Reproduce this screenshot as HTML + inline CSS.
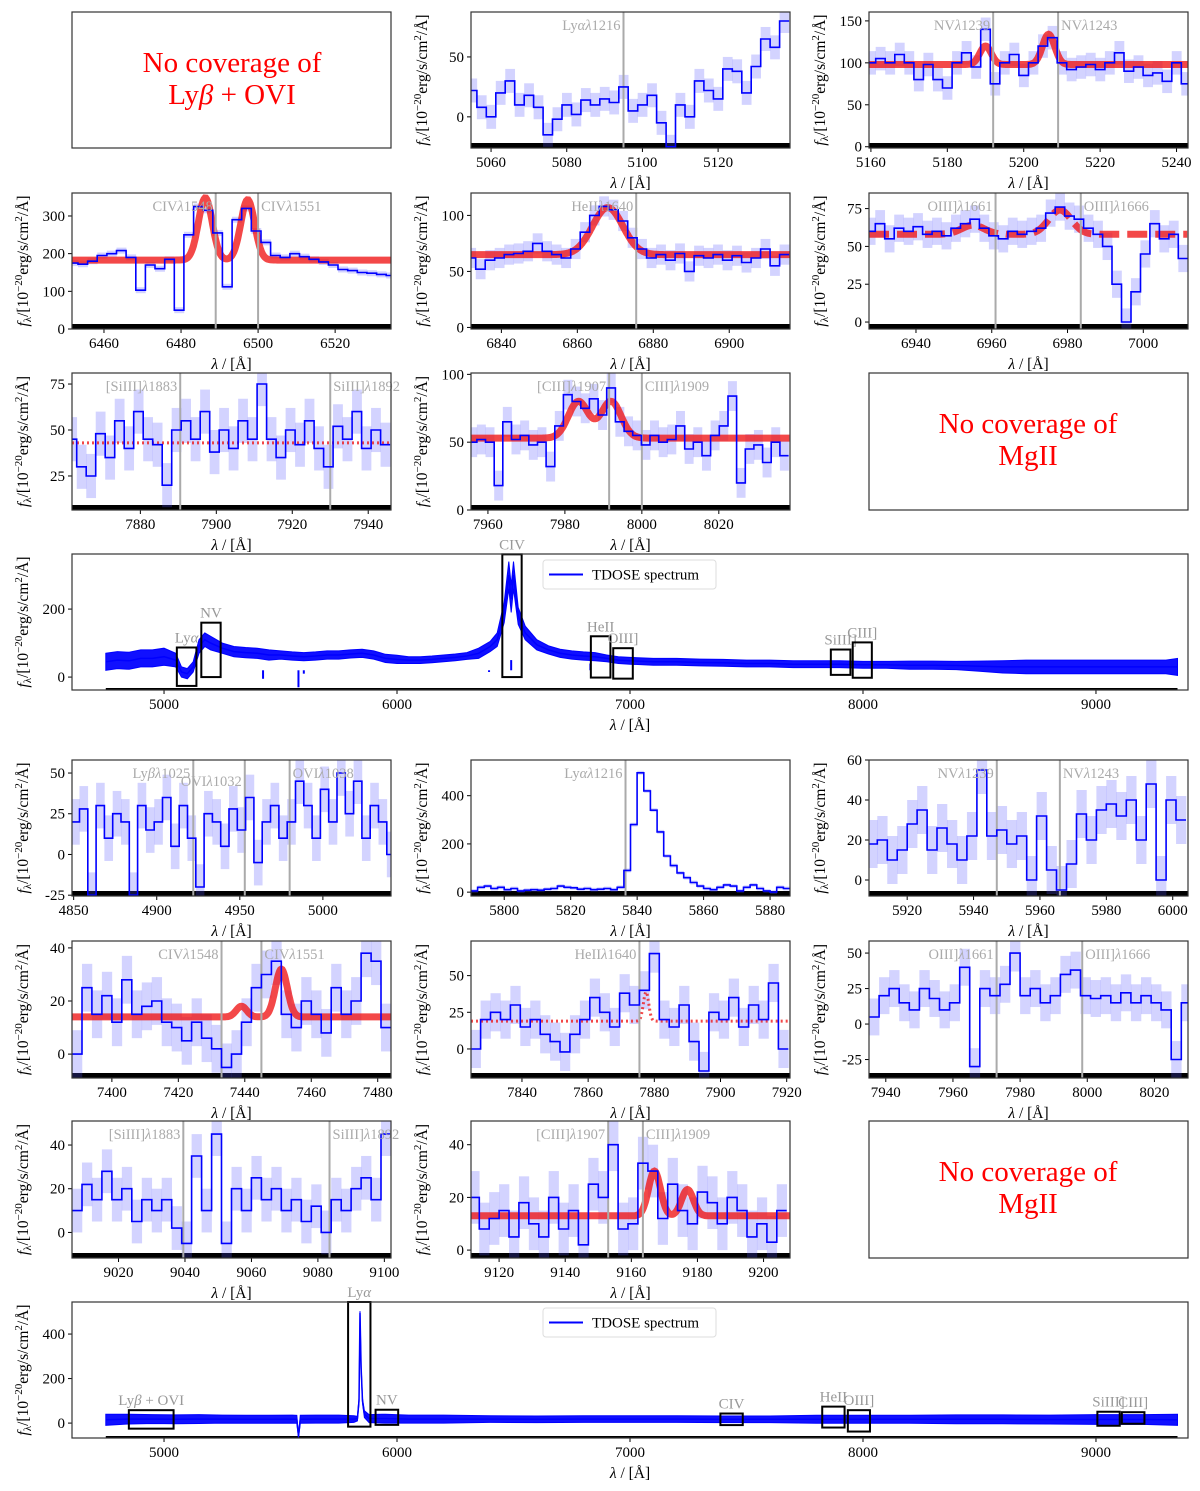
<!DOCTYPE html>
<html><head><meta charset="utf-8"><title>TDOSE spectra</title>
<style>
html,body{margin:0;padding:0;background:#fff;}
svg{display:block;font-family:"Liberation Serif","DejaVu Serif",serif;}
</style></head>
<body>
<svg id="fig" xmlns="http://www.w3.org/2000/svg" width="1200" height="1491" viewBox="0 0 1200 1491">
<rect x="0" y="0" width="1200" height="1491" fill="#fff"/>
<g>
<rect x="72" y="12" width="319" height="136" fill="none" stroke="#333" stroke-width="1.2"/>
<text x="232" y="72" text-anchor="middle" font-size="29" fill="#ff0000">No coverage of</text>
<text x="232" y="104" text-anchor="middle" font-size="29" fill="#ff0000">Ly<tspan font-style="italic">β</tspan> + OVI</text>
</g>
<g>
<rect x="869" y="373" width="319" height="137" fill="none" stroke="#333" stroke-width="1.2"/>
<text x="1028" y="433" text-anchor="middle" font-size="29" fill="#ff0000">No coverage of</text>
<text x="1028" y="465" text-anchor="middle" font-size="29" fill="#ff0000">MgII</text>
</g>
<g>
<rect x="869" y="1121" width="319" height="137" fill="none" stroke="#333" stroke-width="1.2"/>
<text x="1028" y="1181" text-anchor="middle" font-size="29" fill="#ff0000">No coverage of</text>
<text x="1028" y="1213" text-anchor="middle" font-size="29" fill="#ff0000">MgII</text>
</g>
</svg>
<script>
// ---------- data: small panels (bin start, bin step, flux values, error) ----------
const lyaAStart=5055, lyaAStep=2.5;
const lyaAFlux=[22,8,0,20,30,10,18,8,-15,-2,10,2,14,10,15,12,25,5,10,18,-5,-25,10,0,30,22,15,40,38,20,42,65,58,80];
const nvAStart=5160, nvAStep=2.5;
const nvAFlux=[100,105,100,110,100,80,98,80,70,100,112,95,140,75,100,110,85,100,120,130,100,92,95,98,92,100,112,90,95,85,88,78,100,75];
const civAStart=6452, civAStep=2.5;
const civAFlux=[175,172,180,195,200,208,190,103,170,160,185,50,250,325,315,255,112,290,320,260,230,195,190,200,192,185,178,170,158,155,150,148,145,142];
const heiiAStart=6832, heiiAStep=2.5;
const heiiAFlux=[62,52,60,62,65,66,68,75,68,65,62,70,85,100,108,105,95,80,70,62,65,60,66,50,64,62,65,60,64,58,62,70,55,65];
const oiiiAStart=6928, oiiiAStep=2.5;
const oiiiAFlux=[60,65,55,62,60,63,58,60,57,62,65,68,62,57,55,60,58,60,62,72,76,70,68,62,58,50,25,0,20,45,65,55,58,42];
const siiiiAStart=7862, siiiiAStep=2.5;
const siiiiAFlux=[45,30,25,48,35,55,40,60,45,42,20,50,55,45,60,38,50,40,55,45,75,45,35,50,42,55,40,30,52,45,60,40,50,42];
const ciiiAStart=7956, ciiiAStep=2.25;
const ciiiAFlux=[50,52,50,18,65,52,55,48,50,32,62,85,80,75,82,70,90,65,58,55,48,55,50,52,62,45,50,40,55,62,84,20,45,48,35,50,40];
const lybBStart=4851, lybBStep=5;
const lybBFlux=[20,28,-25,30,10,25,20,-25,30,15,20,35,5,30,10,-20,25,20,5,28,15,35,-5,20,30,10,20,45,30,10,40,20,50,25,45,10,30,20,0];
const lyaBStart=5791, lyaBStep=2;
const lyaBFlux=[5,20,25,15,20,10,15,5,8,10,8,12,15,25,20,18,12,15,10,12,15,10,20,90,280,495,420,340,250,150,110,80,60,40,25,15,10,20,30,25,5,20,30,15,5,0,20,15];
const nvBStart=5909.5, nvBStep=3;
const nvBFlux=[18,20,10,15,28,35,15,26,18,10,22,55,22,25,18,22,0,32,5,-5,8,33,20,35,38,32,40,20,48,0,40,30];
const civBStart=7389.5, civBStep=3;
const civBFlux=[0,25,15,22,12,28,15,18,20,12,10,5,12,6,2,-5,0,12,25,30,35,15,10,20,15,8,25,15,20,38,35,10];
const heiiBStart=7826, heiiBStep=3;
const heiiBFlux=[0,20,25,20,30,15,20,10,5,-2,10,20,35,25,15,38,30,40,65,20,15,30,5,-15,25,20,35,15,30,20,45,0];
const oiiiBStart=7936.5, oiiiBStep=3;
const oiiiBFlux=[5,20,25,15,10,25,18,10,15,40,-30,25,20,28,50,20,25,15,20,35,38,20,18,20,15,22,15,20,15,10,-25,15];
const siiiiBStart=9007.5, siiiiBStep=3;
const siiiiBFlux=[10,22,15,28,15,20,5,15,10,15,2,-5,35,10,45,-5,20,10,25,15,20,10,15,5,12,0,15,10,20,25,15,45];
const ciiiBStart=9112.5, ciiiBStep=3;
const ciiiBFlux=[20,8,12,15,5,18,10,5,20,8,15,2,25,20,40,8,10,33,30,12,25,15,10,22,18,10,20,15,5,10,3,15];

// ---------- data: model fits ----------
const nvAModel={cont:98, mu:[5190,5206.5], amp:[22,36], sig:[1.5,1.6]};
const civAModel={cont:183, mu:[6486.3,6497.3], amp:[165,160], sig:[1.8,1.8]};
const heiiAModel={cont:65, mu:[6868], amp:[42], sig:[4]};
const oiiiAModel={cont:58, mu:[6955,6978], amp:[6,16], sig:[3,3]};
const siiiiAModel={cont:43, mu:[], amp:[], sig:[]};
const ciiiAModel={cont:53, mu:[7983.5,7992], amp:[27,27], sig:[2.6,2.6]};
const civBModel={cont:14, mu:[7439,7451], amp:[4,18], sig:[1.6,1.8]};
const heiiBModel={cont:19, mu:[7877.5], amp:[20], sig:[0.8]};
const ciiiBModel={cont:13, mu:[9167,9177], amp:[17,10], sig:[1.8,1.8]};

// ---------- data: full spectra ----------
const topWl=[4750,4800,4850,4900,4950,5000,5050,5075,5100,5125,5150,5175,5200,5250,5300,5350,5400,5450,5500,5550,5600,5650,5700,5750,5800,5850,5900,5950,6000,6050,6100,6150,6200,6250,6300,6350,6400,6430,6460,6480,6490,6500,6520,6550,6600,6650,6700,6750,6800,6850,6900,6950,7000,7100,7200,7300,7400,7500,7600,7700,7800,7900,8000,8100,8200,8300,8400,8500,8600,8700,8800,8900,9000,9100,9200,9300,9350];
const topFlux=[45,50,48,55,55,60,50,15,10,30,90,110,100,85,75,72,70,65,65,62,60,62,65,65,68,70,65,55,52,50,50,52,55,58,62,70,90,110,190,300,230,300,180,130,95,80,70,65,62,60,55,50,48,45,45,43,42,40,40,38,38,38,36,36,35,35,34,32,30,30,30,30,30,30,30,30,30];
const topNoise=[25,25,25,25,25,25,20,15,15,15,20,20,20,15,15,15,15,15,12,12,12,12,12,12,12,12,12,12,12,10,10,10,10,10,10,15,15,20,30,40,40,40,25,20,15,12,12,12,12,12,10,10,10,10,10,10,10,10,10,10,10,10,10,10,12,12,12,15,18,20,20,20,20,20,20,20,25];
const topDipWl=[5425,5577,5600,5890,6395,6490,6830];
const topDipVal=[-5,-30,10,20,15,50,40];
const botWl=[4750,4850,4950,5050,5150,5250,5350,5450,5550,5570,5577,5585,5650,5750,5815,5830,5837,5841,5846,5852,5860,5880,5950,6050,6200,6400,6600,6800,7000,7200,7400,7600,7800,8000,8200,8400,8600,8800,9000,9200,9350];
const botFlux=[15,18,18,17,18,18,17,17,18,17,-60,17,18,18,18,20,100,495,250,100,40,20,20,18,18,18,17,18,18,18,17,17,17,17,17,17,17,16,16,16,15];
const botNoise=[25,22,20,20,20,18,18,18,18,18,5,18,18,18,15,10,10,8,10,10,15,18,20,18,18,15,15,15,15,15,15,15,18,18,18,20,20,20,22,22,25];

// ---------- data: inset boxes ----------
const topBoxLabels=["Lyα","NV","CIV","HeII","OIII]","SiIII]","CIII]"];
const topBoxLam0=[5055,5160,6452,6832,6928,7862,7956];
const topBoxLam1=[5139,5243,6535,6916,7012,7946,8038];
const topBoxF0=[-26,0,0,-1.4,-4.6,6.5,-2];
const topBoxF1=[87,160,361,120,85,81,102];
const botBoxLabels=["Lyβ + OVI","Lyα","NV","CIV","HeII","OIII]","SiIII]","CIII]"];
const botBoxLam0=[4849,5790,5908,7388,7825,7935,9006,9111];
const botBoxLam1=[5041,5886,6005,7484,7921,8030,9102,9208];
const botBoxF0=[-25,-16,-8,-9,-20,-38,-12,-3];
const botBoxF1=[58,544,60,43,74,58,51,49];

// ---------- layout ----------
const NS="http://www.w3.org/2000/svg";
const svg=document.getElementById('fig');
const C1=[72,391], C2=[471,790], C3=[869,1188], CB=[72,1188];
function mk(tag, attrs, name, parent){
  const el=document.createElementNS(NS,tag);
  for(const k in attrs) el.setAttribute(k, attrs[k]);
  
  
  (parent||svg).appendChild(el);
  return el;
}
let clipId=0;
function gauss(m,x){let v=m.cont;for(let i=0;i<m.mu.length;i++){v+=m.amp[i]*Math.exp(-0.5*Math.pow((x-m.mu[i])/m.sig[i],2));}return v;}

function axes(p){
  const g=mk('g',{},p.name);
  const sx=v=>p.c[0]+(v-p.xmin)/(p.xmax-p.xmin)*(p.c[1]-p.c[0]);
  const sy=v=>p.r[1]-(v-p.ymin)/(p.ymax-p.ymin)*(p.r[1]-p.r[0]);
  const id='clip'+(clipId++);
  const cp=mk('clipPath',{id:id},p.name+'-clip',g);
  mk('rect',{x:p.c[0],y:p.r[0],width:p.c[1]-p.c[0],height:p.r[1]-p.r[0]},p.name+'-clip-rect',cp);
  const plot=mk('g',{'clip-path':'url(#'+id+')'},p.name+'-plot-area',g);
  p.xt.forEach(t=>{const x=sx(t);
    mk('line',{x1:x,x2:x,y1:p.r[1],y2:p.r[1]+4,stroke:'#000','stroke-width':1},p.name+'-x-tick',g);
    const tx=mk('text',{x:x,y:p.r[1]+19,'text-anchor':'middle','font-size':15},p.name+'-x-tick-label',g); tx.textContent=t;});
  p.yt.forEach(t=>{const y=sy(t);
    mk('line',{x1:p.c[0]-4,x2:p.c[0],y1:y,y2:y,stroke:'#000','stroke-width':1},p.name+'-y-tick',g);
    const ty=mk('text',{x:p.c[0]-7,y:y+5,'text-anchor':'end','font-size':15},p.name+'-y-tick-label',g); ty.textContent=t;});
  const xl=mk('text',{x:(p.c[0]+p.c[1])/2,y:p.r[1]+40,'text-anchor':'middle','font-size':15.5},p.name+'-x-axis-title',g);
  xl.innerHTML='<tspan font-style="italic">λ</tspan> / [Å]';
  const cy=(p.r[0]+p.r[1])/2, lx=p.c[0]-(p.ylOff||44);
  const yl=mk('text',{x:lx,y:cy,'text-anchor':'middle','font-size':15.5,transform:'rotate(-90 '+lx+' '+cy+')'},p.name+'-y-axis-title',g);
  yl.innerHTML='<tspan font-style="italic">f</tspan><tspan font-size="11" dy="3">λ</tspan><tspan dy="-3">/[10</tspan><tspan font-size="11" dy="-6">−20</tspan><tspan dy="6">erg/s/cm</tspan><tspan font-size="11" dy="-6">2</tspan><tspan dy="6">/Å]</tspan>';
  return {g,plot,sx,sy};
}
function frame(p,A){
  mk('rect',{x:p.c[0],y:p.r[0],width:p.c[1]-p.c[0],height:p.r[1]-p.r[0],fill:'none',stroke:'#333','stroke-width':1.2},p.name+'-frame',A.g);
}

function smallPanel(p, start, step, flux, err, model, lines, labels, mstyle){
  const A=axes(p);
  mk('rect',{x:p.c[0],y:p.r[1]-5,width:p.c[1]-p.c[0],height:5,fill:'#000'},p.name+'-sky-band',A.plot);
  flux.forEach((f,i)=>{const l=start+i*step;
    mk('rect',{x:A.sx(l-step/2),y:A.sy(f+err),width:A.sx(l+step/2)-A.sx(l-step/2)+0.3,height:A.sy(f-err)-A.sy(f+err),fill:'rgba(80,80,255,0.25)'},p.name+'-error-bin',A.plot);});
  if(model){
    let d='';
    for(let x=p.xmin;x<=p.xmax;x+=0.25){d+=(d?'L':'M')+A.sx(x).toFixed(1)+','+A.sy(gauss(model,x)).toFixed(1);}
    const st=mstyle||{w:7,dash:'none'};
    mk('path',{d:d,fill:'none',stroke:'rgba(240,20,20,0.78)','stroke-width':st.w,'stroke-dasharray':st.dash},p.name+'-model-fit',A.plot);
  }
  lines.forEach((l,i)=>{const x=A.sx(l);
    mk('line',{x1:x,x2:x,y1:p.r[0],y2:p.r[1],stroke:'#aaa','stroke-width':2},p.name+'-line-marker',A.plot);
    const last=(i===lines.length-1 && lines.length>1);
    const t=mk('text',{x:last?x+3:x-3,y:p.r[0]+18+(p.stag&&i===1?8:0),'text-anchor':last?'start':'end','font-size':14.5,fill:'#aaa'},p.name+'-line-label',A.g);
    t.innerHTML=labels[i];});
  let d='';
  flux.forEach((f,i)=>{const l=start+i*step; const y=A.sy(f).toFixed(1);
    d+=(i===0?'M'+A.sx(l-step/2).toFixed(1)+','+y:'L'+A.sx(l-step/2).toFixed(1)+','+y)+'L'+A.sx(l+step/2).toFixed(1)+','+y;});
  mk('path',{d:d,fill:'none',stroke:'#0000ff','stroke-width':1.6},p.name+'-spectrum',A.plot);
  frame(p,A);
}

function bigPanel(p, wl, flux, noise, dipWl, dipVal, bl, b0, b1, f0, f1, legY){
  const A=axes(p);
  mk('line',{x1:A.sx(4750),x2:A.sx(9350),y1:p.r[1]-1,y2:p.r[1]-1,stroke:'#000','stroke-width':2},p.name+'-sky-line',A.plot);
  let up='',lo='';
  wl.forEach((l,i)=>{up+=(i?'L':'M')+A.sx(l).toFixed(1)+','+A.sy(flux[i]+noise[i]).toFixed(1);});
  for(let i=wl.length-1;i>=0;i--){lo+='L'+A.sx(wl[i]).toFixed(1)+','+A.sy(flux[i]-noise[i]).toFixed(1);}
  mk('path',{d:up+lo+'Z',fill:'#1010ff',stroke:'#0000ff','stroke-width':1},p.name+'-spectrum-band',A.plot);
  let d='';
  wl.forEach((l,i)=>{d+=(i?'L':'M')+A.sx(l).toFixed(1)+','+A.sy(flux[i]).toFixed(1);});
  mk('path',{d:d,fill:'none',stroke:'#0000ff','stroke-width':1.5},p.name+'-spectrum',A.plot);
  dipWl.forEach((l,i)=>{mk('line',{x1:A.sx(l),x2:A.sx(l),y1:A.sy(20),y2:A.sy(dipVal[i]),stroke:'#0000ff','stroke-width':2},p.name+'-spectrum-dip',A.plot);});
  bl.forEach((lab,i)=>{
    const x0=A.sx(b0[i]),x1=A.sx(b1[i]),ya=A.sy(f1[i]),yb=A.sy(f0[i]);
    mk('rect',{x:x0,y:ya,width:x1-x0,height:yb-ya,fill:'none',stroke:'#000','stroke-width':2},p.name+'-inset-box',A.g);
    const t=mk('text',{x:(x0+x1)/2,y:ya-5,'text-anchor':'middle','font-size':15,fill:'#999'},p.name+'-inset-label',A.g);
    t.innerHTML=lab.replace('β','<tspan font-style="italic">β</tspan>').replace('α','<tspan font-style="italic">α</tspan>');
  });
  const lg=mk('g',{},p.name+'-legend',A.g);
  mk('rect',{x:543,y:legY,width:173,height:29,rx:3,fill:'#fff',stroke:'#ddd','stroke-width':1},p.name+'-legend-box',lg);
  mk('line',{x1:549,x2:583,y1:legY+14.5,y2:legY+14.5,stroke:'#0000ff','stroke-width':2},p.name+'-legend-swatch',lg);
  const lt=mk('text',{x:592,y:legY+19.5,'font-size':15},p.name+'-legend-label',lg); lt.textContent='TDOSE spectrum';
  frame(p,A);
}

const R1=[12,148],R2=[193,329],R3=[373,510],RB1=[554,690];
const R5=[760,896],R6=[941,1078],R7=[1121,1258],RB2=[1302,1438];
const thick={w:7,dash:'none'}, dashed={w:7,dash:'20,8'}, dotted={w:3,dash:'2,3'};

smallPanel({name:'lya-panel-1',c:C2,r:R1,xmin:5054.7,xmax:5139,ymin:-26,ymax:87.5,xt:[5060,5080,5100,5120],yt:[0,50]},lyaAStart,lyaAStep,lyaAFlux,10,null,[5095],['Ly<tspan font-style="italic">α</tspan><tspan font-style="italic">λ</tspan>1216']);
smallPanel({name:'nv-panel-1',c:C3,r:R1,xmin:5159.5,xmax:5243,ymin:-1.5,ymax:160.6,xt:[5160,5180,5200,5220,5240],yt:[0,50,100,150]},nvAStart,nvAStep,nvAFlux,14,nvAModel,[5192,5209],['NV<tspan font-style="italic">λ</tspan>1239','NV<tspan font-style="italic">λ</tspan>1243'],thick);
smallPanel({name:'civ-panel-1',c:C1,r:R2,xmin:6451.7,xmax:6534.5,ymin:0,ymax:361,xt:[6460,6480,6500,6520],yt:[0,100,200,300]},civAStart,civAStep,civAFlux,8,civAModel,[6489,6500],['CIV<tspan font-style="italic">λ</tspan>1548','CIV<tspan font-style="italic">λ</tspan>1551'],thick);
smallPanel({name:'heii-panel-1',c:C2,r:R2,xmin:6832,xmax:6916,ymin:-1.4,ymax:120,xt:[6840,6860,6880,6900],yt:[0,50,100]},heiiAStart,heiiAStep,heiiAFlux,9,heiiAModel,[6875.5],['HeII<tspan font-style="italic">λ</tspan>1640'],thick);
smallPanel({name:'oiii-panel-1',c:C3,r:R2,xmin:6927.6,xmax:7011.8,ymin:-4.6,ymax:85.3,xt:[6940,6960,6980,7000],yt:[0,25,50,75]},oiiiAStart,oiiiAStep,oiiiAFlux,9,oiiiAModel,[6961,6983.5],['OIII]<tspan font-style="italic">λ</tspan>1661','OIII]<tspan font-style="italic">λ</tspan>1666'],dashed);
smallPanel({name:'siiii-panel-1',c:C1,r:R3,xmin:7862,xmax:7946,ymin:6.5,ymax:81,xt:[7880,7900,7920,7940],yt:[25,50,75]},siiiiAStart,siiiiAStep,siiiiAFlux,12,siiiiAModel,[7890.5,7930],['[SiIII]<tspan font-style="italic">λ</tspan>1883','SiIII]<tspan font-style="italic">λ</tspan>1892'],dotted);
smallPanel({name:'ciii-panel-1',c:C2,r:R3,xmin:7955.6,xmax:8038.5,ymin:0,ymax:101,xt:[7960,7980,8000,8020],yt:[0,50,100]},ciiiAStart,ciiiAStep,ciiiAFlux,11,ciiiAModel,[7991.5,8000],['[CIII]<tspan font-style="italic">λ</tspan>1907','CIII]<tspan font-style="italic">λ</tspan>1909'],thick);
bigPanel({name:'full-spectrum-1',c:CB,r:RB1,xmin:4605,xmax:9395,ymin:-38,ymax:362,xt:[5000,6000,7000,8000,9000],yt:[0,200],ylOff:44},topWl,topFlux,topNoise,topDipWl,topDipVal,topBoxLabels,topBoxLam0,topBoxLam1,topBoxF0,topBoxF1,560);

smallPanel({name:'lybeta-ovi-panel-2',c:C1,r:R5,xmin:4849,xmax:5041,ymin:-25.5,ymax:58,xt:[4850,4900,4950,5000],yt:[-25,0,25,50],stag:true},lybBStart,lybBStep,lybBFlux,14,null,[4922,4953,4980],['Ly<tspan font-style="italic">β</tspan><tspan font-style="italic">λ</tspan>1025','OVI<tspan font-style="italic">λ</tspan>1032','OVI<tspan font-style="italic">λ</tspan>1038']);
smallPanel({name:'lya-panel-2',c:C2,r:R5,xmin:5790,xmax:5886,ymin:-16,ymax:548,xt:[5800,5820,5840,5860,5880],yt:[0,200,400]},lyaBStart,lyaBStep,lyaBFlux,8,null,[5836.5],['Ly<tspan font-style="italic">α</tspan><tspan font-style="italic">λ</tspan>1216']);
smallPanel({name:'nv-panel-2',c:C3,r:R5,xmin:5908.5,xmax:6004.6,ymin:-8,ymax:60,xt:[5920,5940,5960,5980,6000],yt:[0,20,40,60]},nvBStart,nvBStep,nvBFlux,12,null,[5947,5966],['NV<tspan font-style="italic">λ</tspan>1239','NV<tspan font-style="italic">λ</tspan>1243']);
smallPanel({name:'civ-panel-2',c:C1,r:R6,xmin:7388,xmax:7484,ymin:-9,ymax:42.6,xt:[7400,7420,7440,7460,7480],yt:[0,20,40]},civBStart,civBStep,civBFlux,9,civBModel,[7433,7445],['CIV<tspan font-style="italic">λ</tspan>1548','CIV<tspan font-style="italic">λ</tspan>1551'],thick);
smallPanel({name:'heii-panel-2',c:C2,r:R6,xmin:7824.6,xmax:7921,ymin:-19.8,ymax:73.6,xt:[7840,7860,7880,7900,7920],yt:[0,25,50]},heiiBStart,heiiBStep,heiiBFlux,13,heiiBModel,[7875.5],['HeII<tspan font-style="italic">λ</tspan>1640'],dotted);
smallPanel({name:'oiii-panel-2',c:C3,r:R6,xmin:7935,xmax:8030,ymin:-38,ymax:58.5,xt:[7940,7960,7980,8000,8020],yt:[-25,0,25,50]},oiiiBStart,oiiiBStep,oiiiBFlux,13,null,[7973,7998.5],['OIII]<tspan font-style="italic">λ</tspan>1661','OIII]<tspan font-style="italic">λ</tspan>1666']);
smallPanel({name:'siiii-panel-2',c:C1,r:R7,xmin:9006,xmax:9102,ymin:-11.7,ymax:51,xt:[9020,9040,9060,9080,9100],yt:[0,20,40]},siiiiBStart,siiiiBStep,siiiiBFlux,10,null,[9039.5,9083.5],['[SiIII]<tspan font-style="italic">λ</tspan>1883','SiIII]<tspan font-style="italic">λ</tspan>1892']);
smallPanel({name:'ciii-panel-2',c:C2,r:R7,xmin:9111.5,xmax:9208,ymin:-3,ymax:49,xt:[9120,9140,9160,9180,9200],yt:[0,20,40]},ciiiBStart,ciiiBStep,ciiiBFlux,10,ciiiBModel,[9153,9163.5],['[CIII]<tspan font-style="italic">λ</tspan>1907','CIII]<tspan font-style="italic">λ</tspan>1909'],thick);
bigPanel({name:'full-spectrum-2',c:CB,r:RB2,xmin:4605,xmax:9395,ymin:-67,ymax:544,xt:[5000,6000,7000,8000,9000],yt:[0,200,400],ylOff:44},botWl,botFlux,botNoise,[],[],botBoxLabels,botBoxLam0,botBoxLam1,botBoxF0,botBoxF1,1308);
</script>
</body></html>
